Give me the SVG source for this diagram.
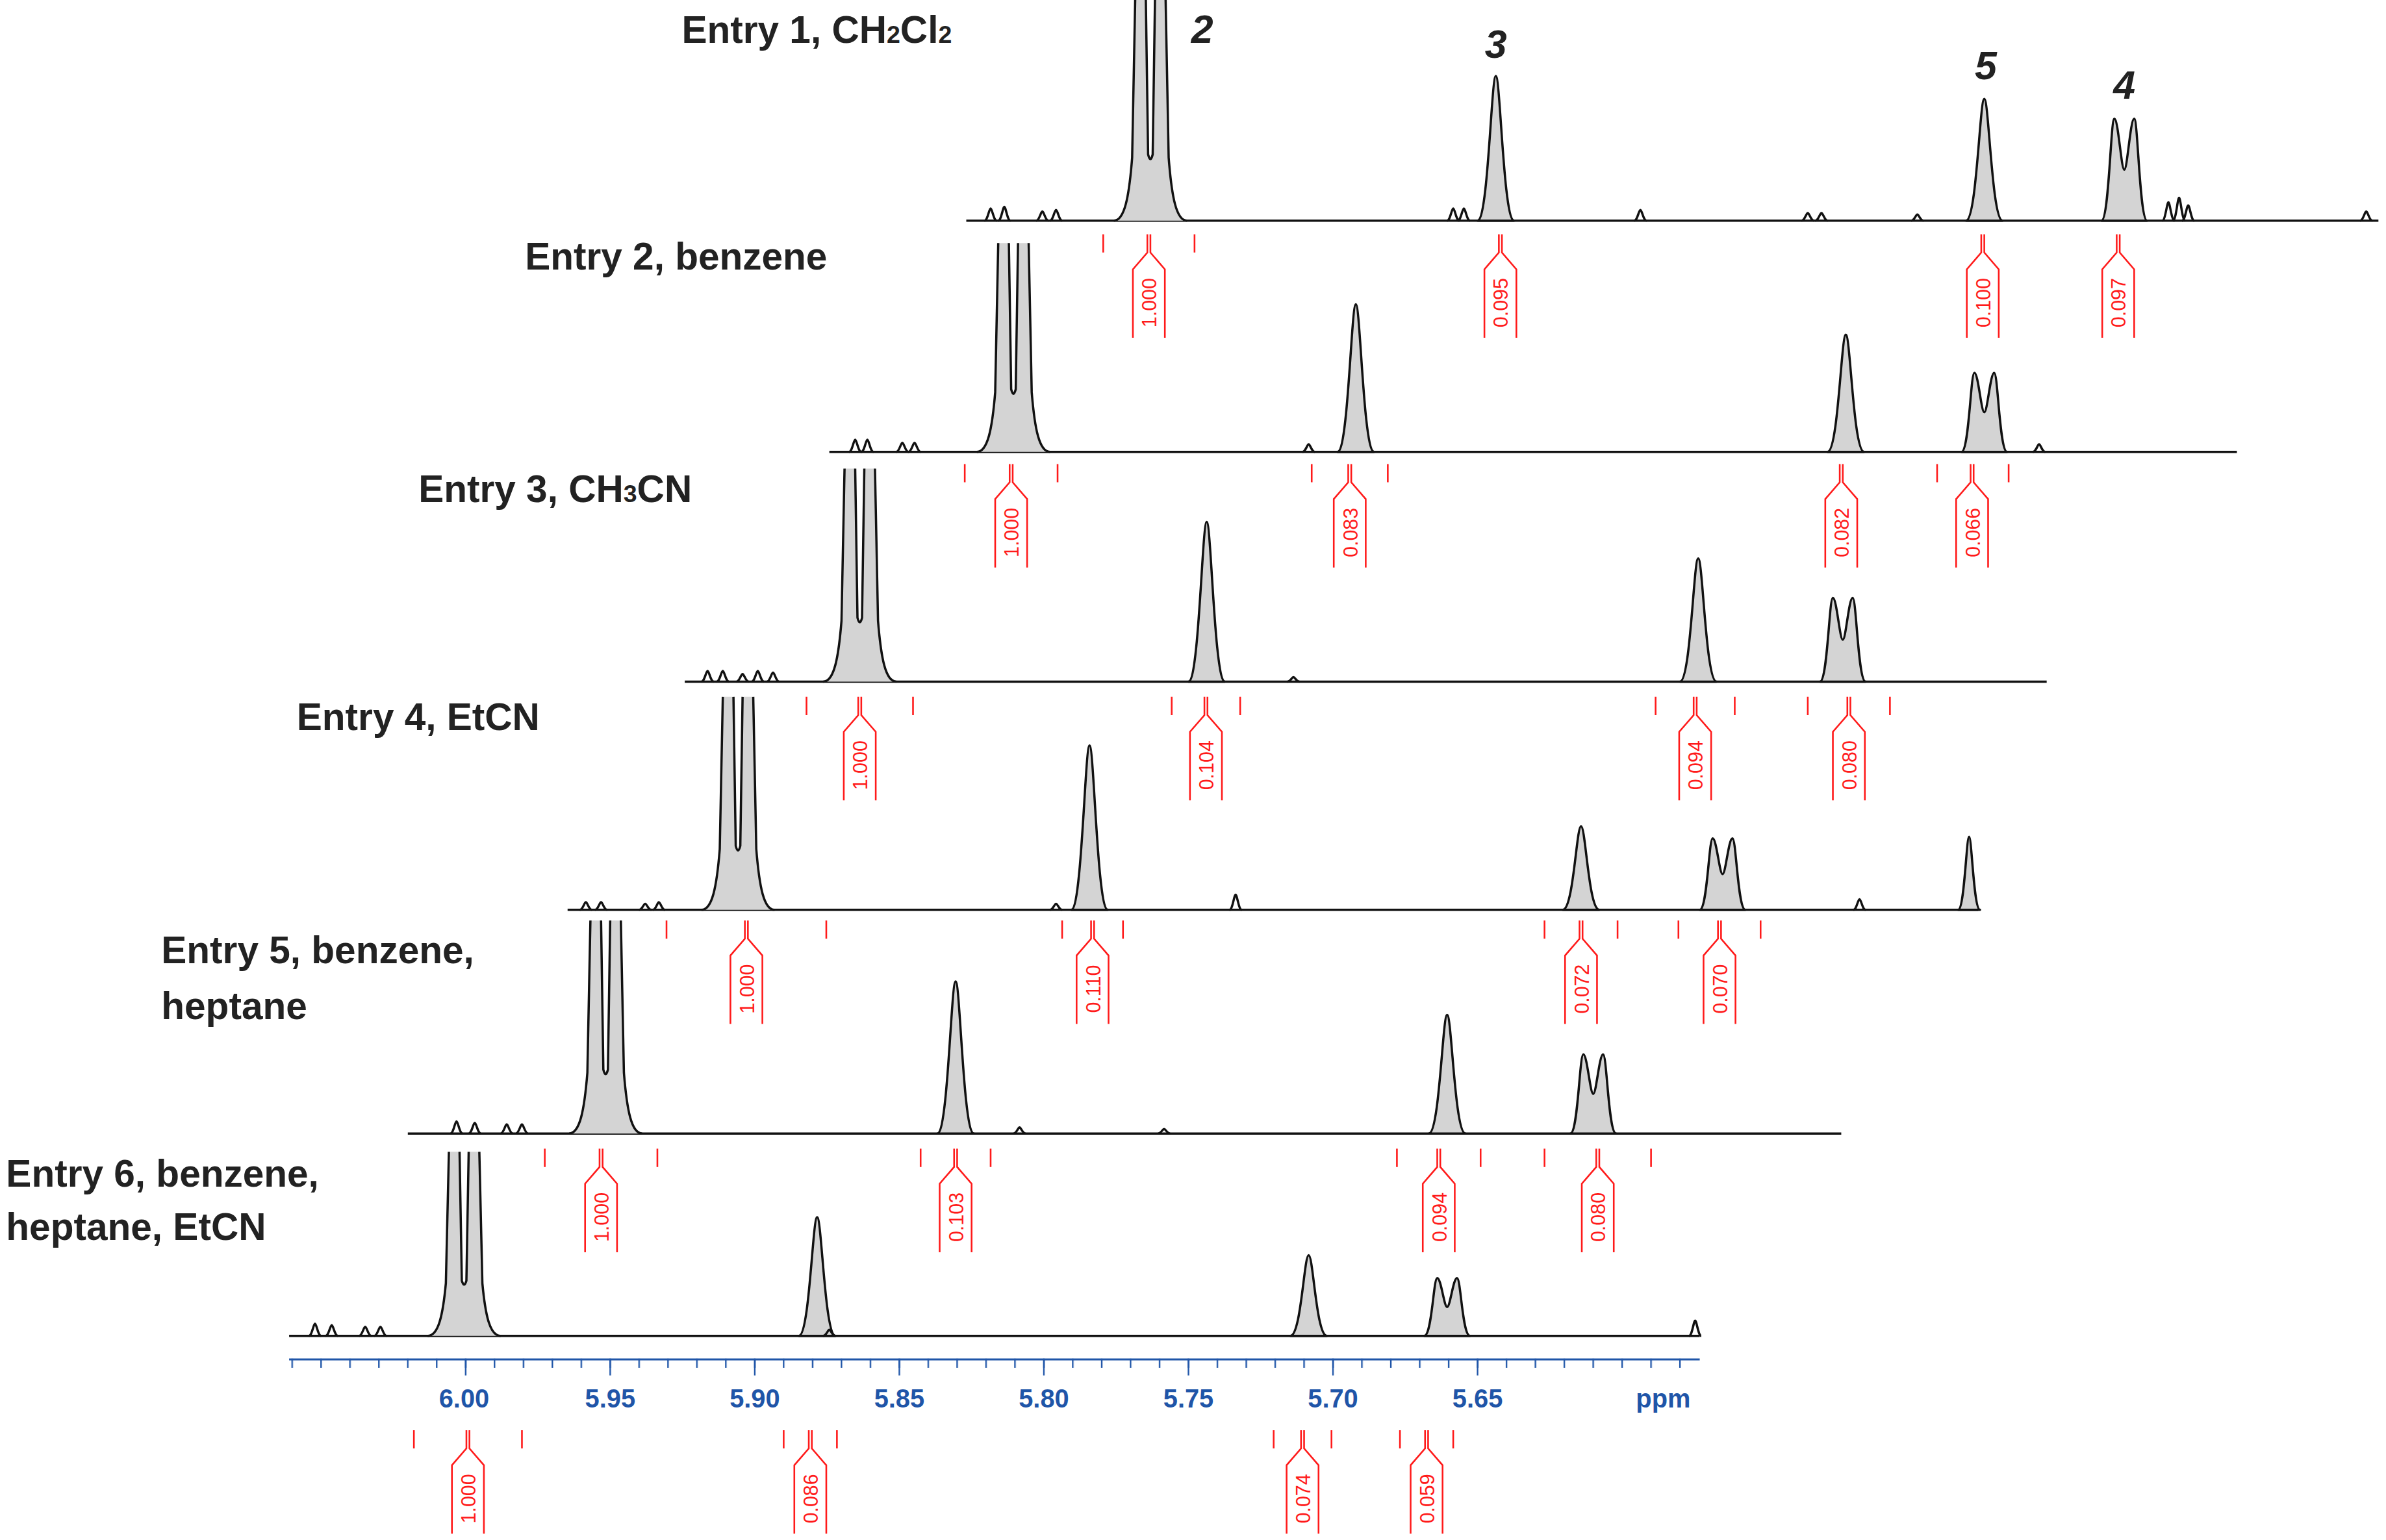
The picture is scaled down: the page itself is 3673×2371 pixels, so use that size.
<svg xmlns="http://www.w3.org/2000/svg" xmlns:xlink="http://www.w3.org/1999/xlink" width="3673" height="2371" viewBox="0 0 3673 2371">
<style>
.tr{fill:none;stroke:#111;stroke-width:3.5;vector-effect:non-scaling-stroke;stroke-linejoin:round}
.pf{fill:#d4d4d4;stroke:#111;stroke-width:3.5;vector-effect:non-scaling-stroke;stroke-linejoin:round}
.bf{fill:#d4d4d4;stroke:none}
.ig{fill:none;stroke:#ff1a1a;stroke-width:1.1}
.it{font-family:"Liberation Sans",Arial,sans-serif;font-size:13px;fill:#ff1a1a;text-anchor:middle}
.ti{font-family:"Liberation Sans",Arial,sans-serif;font-size:25px;font-weight:bold;fill:#222}
.nm{font-family:"Liberation Sans",Arial,sans-serif;font-size:26px;font-weight:bold;font-style:italic;fill:#222;text-anchor:middle}
.ax{font-family:"Liberation Sans",Arial,sans-serif;font-size:17px;font-weight:bold;fill:#1f55a8;text-anchor:middle}
</style>
<defs>
<path id="pk" class="pf" d="M-12,0 C-5,0 -3,-100 0,-100 C3,-100 5,0 12,0 Z"/>
<path id="db" class="pf" d="M-15,0 C-10,0 -9,-100 -6.5,-100 C-4,-100 -2,-50 0,-50 C2,-50 4,-100 6.5,-100 C9,-100 10,0 15,0 Z"/>
<g id="bg"><path class="bf" d="M-24,0 C-17,0 -14,-15 -12,-40 L-10,-140 L-3,-140 L-1.5,-42 Q0,-36 1.5,-42 L3,-140 L10,-140 L12,-40 C14,-15 17,0 24,0 Z"/><path class="tr" d="M-24,0 C-17,0 -14,-15 -12,-40 L-10,-140 M-3,-140 L-1.5,-42 Q0,-36 1.5,-42 L3,-140 M10,-140 L12,-40 C14,-15 17,0 24,0"/></g>
<path id="sm" class="tr" d="M-4,0 C-2,0 -1,-100 0,-100 C1,-100 2,0 4,0"/>
<path id="ib" class="ig" d="M-1,0 V12 L-10.5,23 V68 M1,0 V12 L10.5,23 V68"/>
<pattern id="mn" patternUnits="userSpaceOnUse" x="191.5" y="0" width="19" height="20"><rect x="0" y="0" width="1" height="20" fill="#1f55a8"/></pattern>
<pattern id="mj" patternUnits="userSpaceOnUse" x="305.5" y="0" width="95" height="20"><rect x="0" y="0" width="1" height="20" fill="#1f55a8"/></pattern>
</defs>
<g transform="scale(2.3425)">
<g id="entry1">
<path class="tr" d="M635,145 H1563"/>
<use href="#bg" transform="translate(756,145) scale(1,1.036)"/>
<use href="#pk" transform="translate(983,145) scale(1,0.95)"/>
<use href="#pk" transform="translate(1304,145) scale(1,0.8)"/>
<use href="#db" transform="translate(1396,145) scale(1,0.67)"/>
<use href="#sm" transform="translate(651,145) scale(1,0.08)"/><use href="#sm" transform="translate(660,145) scale(1,0.09)"/><use href="#sm" transform="translate(685,145) scale(1,0.06)"/><use href="#sm" transform="translate(694,145) scale(1,0.07)"/><use href="#sm" transform="translate(955,145) scale(1,0.08)"/><use href="#sm" transform="translate(962,145) scale(1,0.08)"/><use href="#sm" transform="translate(1078,145) scale(1,0.07)"/><use href="#sm" transform="translate(1188,145) scale(1,0.05)"/><use href="#sm" transform="translate(1197,145) scale(1,0.05)"/><use href="#sm" transform="translate(1260,145) scale(1,0.04)"/><use href="#sm" transform="translate(1425,145) scale(1,0.12)"/><use href="#sm" transform="translate(1432,145) scale(1,0.15)"/><use href="#sm" transform="translate(1438,145) scale(1,0.1)"/><use href="#sm" transform="translate(1555,145) scale(1,0.06)"/>
<text class="ti" x="448" y="28">Entry 1, CH<tspan font-size="16">2</tspan>Cl<tspan font-size="16">2</tspan></text>
<text class="nm" x="790" y="28">2</text><text class="nm" x="983" y="38">3</text><text class="nm" x="1305" y="52">5</text><text class="nm" x="1396" y="65">4</text>
<use href="#ib" transform="translate(755,154)"/><path class="ig" d="M725,154 V166 M785,154 V166"/><text class="it" transform="translate(760,199) rotate(-90)">1.000</text>
<use href="#ib" transform="translate(986,154)"/><text class="it" transform="translate(991,199) rotate(-90)">0.095</text>
<use href="#ib" transform="translate(1303,154)"/><text class="it" transform="translate(1308,199) rotate(-90)">0.100</text>
<use href="#ib" transform="translate(1392,154)"/><text class="it" transform="translate(1397,199) rotate(-90)">0.097</text>
</g>
<g id="entry2">
<path class="tr" d="M545,297 H1470"/>
<use href="#bg" transform="translate(666,297) scale(1,0.98)"/>
<use href="#pk" transform="translate(891,297) scale(1,0.97)"/>
<use href="#pk" transform="translate(1213,297) scale(1,0.77)"/>
<use href="#db" transform="translate(1304,297) scale(1,0.52)"/>
<use href="#sm" transform="translate(562,297) scale(1,0.08)"/><use href="#sm" transform="translate(570,297) scale(1,0.08)"/><use href="#sm" transform="translate(593,297) scale(1,0.06)"/><use href="#sm" transform="translate(601,297) scale(1,0.06)"/><use href="#sm" transform="translate(860,297) scale(1,0.05)"/><use href="#sm" transform="translate(1340,297) scale(1,0.05)"/>
<text class="ti" x="345" y="177">Entry 2, benzene</text>
<use href="#ib" transform="translate(664.5,305)"/><path class="ig" d="M634,305 V317 M695,305 V317"/><text class="it" transform="translate(669.5,350) rotate(-90)">1.000</text>
<use href="#ib" transform="translate(887,305)"/><path class="ig" d="M862,305 V317 M912,305 V317"/><text class="it" transform="translate(892,350) rotate(-90)">0.083</text>
<use href="#ib" transform="translate(1210,305)"/><text class="it" transform="translate(1215,350) rotate(-90)">0.082</text>
<use href="#ib" transform="translate(1296,305)"/><path class="ig" d="M1273,305 V317 M1320,305 V317"/><text class="it" transform="translate(1301,350) rotate(-90)">0.066</text>
</g>
<g id="entry3">
<path class="tr" d="M450,448 H1345"/>
<use href="#bg" transform="translate(565,448)"/>
<use href="#pk" transform="translate(793,448) scale(1,1.05)"/>
<use href="#pk" transform="translate(1116,448) scale(1,0.81)"/>
<use href="#db" transform="translate(1211,448) scale(1,0.55)"/>
<use href="#sm" transform="translate(465,448) scale(1,0.07)"/><use href="#sm" transform="translate(475,448) scale(1,0.07)"/><use href="#sm" transform="translate(488,448) scale(1,0.05)"/><use href="#sm" transform="translate(498,448) scale(1,0.07)"/><use href="#sm" transform="translate(508,448) scale(1,0.06)"/><use href="#sm" transform="translate(850,448) scale(1,0.03)"/>
<text class="ti" x="275" y="330">Entry 3, CH<tspan font-size="16">3</tspan>CN</text>
<use href="#ib" transform="translate(565,458)"/><path class="ig" d="M530,458 V470 M600,458 V470"/><text class="it" transform="translate(570,503) rotate(-90)">1.000</text>
<use href="#ib" transform="translate(792.5,458)"/><path class="ig" d="M770,458 V470 M815,458 V470"/><text class="it" transform="translate(797.5,503) rotate(-90)">0.104</text>
<use href="#ib" transform="translate(1114,458)"/><path class="ig" d="M1088,458 V470 M1140,458 V470"/><text class="it" transform="translate(1119,503) rotate(-90)">0.094</text>
<use href="#ib" transform="translate(1215,458)"/><path class="ig" d="M1188,458 V470 M1242,458 V470"/><text class="it" transform="translate(1220,503) rotate(-90)">0.080</text>
</g>
<g id="entry4">
<path class="tr" d="M373,598 H1300"/>
<use href="#bg" transform="translate(485,598)"/>
<use href="#pk" transform="translate(716,598) scale(1,1.08)"/>
<use href="#pk" transform="translate(1039,598) scale(1,0.55)"/>
<use href="#db" transform="translate(1132,598) scale(1,0.47)"/>
<use href="#pk" transform="translate(1294,598) scale(0.6,0.48)"/>
<use href="#sm" transform="translate(385,598) scale(1,0.05)"/><use href="#sm" transform="translate(395,598) scale(1,0.05)"/><use href="#sm" transform="translate(424,598) scale(1,0.04)"/><use href="#sm" transform="translate(433,598) scale(1,0.05)"/><use href="#sm" transform="translate(694,598) scale(1,0.04)"/><use href="#sm" transform="translate(812,598) scale(1,0.1)"/><use href="#sm" transform="translate(1222,598) scale(1,0.07)"/>
<text class="ti" x="195" y="480">Entry 4, EtCN</text>
<use href="#ib" transform="translate(490.5,605)"/><path class="ig" d="M438,605 V617 M543,605 V617"/><text class="it" transform="translate(495.5,650) rotate(-90)">1.000</text>
<use href="#ib" transform="translate(718,605)"/><path class="ig" d="M698,605 V617 M738,605 V617"/><text class="it" transform="translate(723,650) rotate(-90)">0.110</text>
<use href="#ib" transform="translate(1039,605)"/><path class="ig" d="M1015,605 V617 M1063,605 V617"/><text class="it" transform="translate(1044,650) rotate(-90)">0.072</text>
<use href="#ib" transform="translate(1130,605)"/><path class="ig" d="M1103,605 V617 M1157,605 V617"/><text class="it" transform="translate(1135,650) rotate(-90)">0.070</text>
</g>
<g id="entry5">
<path class="tr" d="M268,745 H1210"/>
<use href="#bg" transform="translate(398,745)"/>
<use href="#pk" transform="translate(628,745)"/>
<use href="#pk" transform="translate(951,745) scale(1,0.78)"/>
<use href="#db" transform="translate(1047,745) scale(1,0.52)"/>
<use href="#sm" transform="translate(300,745) scale(1,0.08)"/><use href="#sm" transform="translate(312,745) scale(1,0.07)"/><use href="#sm" transform="translate(333,745) scale(1,0.06)"/><use href="#sm" transform="translate(343,745) scale(1,0.06)"/><use href="#sm" transform="translate(670,745) scale(1,0.04)"/><use href="#sm" transform="translate(765,745) scale(1,0.03)"/>
<text class="ti" x="106" y="633">Entry 5, benzene,</text><text class="ti" x="106" y="670">heptane</text>
<use href="#ib" transform="translate(395,755)"/><path class="ig" d="M358,755 V767 M432,755 V767"/><text class="it" transform="translate(400,800) rotate(-90)">1.000</text>
<use href="#ib" transform="translate(628,755)"/><path class="ig" d="M605,755 V767 M651,755 V767"/><text class="it" transform="translate(633,800) rotate(-90)">0.103</text>
<use href="#ib" transform="translate(945.5,755)"/><path class="ig" d="M918,755 V767 M973,755 V767"/><text class="it" transform="translate(950.5,800) rotate(-90)">0.094</text>
<use href="#ib" transform="translate(1050,755)"/><path class="ig" d="M1015,755 V767 M1085,755 V767"/><text class="it" transform="translate(1055,800) rotate(-90)">0.080</text>
</g>
<g id="entry6">
<path class="tr" d="M190,878 H1117"/>
<use href="#bg" transform="translate(305,878) scale(1,0.864)"/>
<use href="#pk" transform="translate(537,878) scale(1,0.78)"/>
<use href="#pk" transform="translate(860,878) scale(1,0.53)"/>
<use href="#db" transform="translate(951,878) scale(1,0.38)"/>
<use href="#sm" transform="translate(207,878) scale(1,0.08)"/><use href="#sm" transform="translate(218,878) scale(1,0.07)"/><use href="#sm" transform="translate(240,878) scale(1,0.06)"/><use href="#sm" transform="translate(250,878) scale(1,0.06)"/><use href="#sm" transform="translate(545,878) scale(1,0.04)"/><use href="#sm" transform="translate(1114,878) scale(1,0.1)"/>
<text class="ti" x="4" y="780">Entry 6, benzene,</text><text class="ti" x="4" y="815">heptane, EtCN</text>
</g>
<g id="axis">
<path d="M190,893.5 H1117" stroke="#1f55a8" stroke-width="1.2"/>
<rect x="191" y="893" width="916" height="6" fill="url(#mn)"/>
<rect x="305" y="893" width="668" height="11" fill="url(#mj)"/>
<text class="ax" x="305" y="925">6.00</text><text class="ax" x="401" y="925">5.95</text><text class="ax" x="496" y="925">5.90</text><text class="ax" x="591" y="925">5.85</text><text class="ax" x="686" y="925">5.80</text><text class="ax" x="781" y="925">5.75</text><text class="ax" x="876" y="925">5.70</text><text class="ax" x="971" y="925">5.65</text><text class="ax" x="1093" y="925">ppm</text>
</g>
<g id="integrals6">
<use href="#ib" transform="translate(307.5,940)"/><path class="ig" d="M272,940 V952 M343,940 V952"/><text class="it" transform="translate(312.5,985) rotate(-90)">1.000</text>
<use href="#ib" transform="translate(532.5,940)"/><path class="ig" d="M515,940 V952 M550,940 V952"/><text class="it" transform="translate(537.5,985) rotate(-90)">0.086</text>
<use href="#ib" transform="translate(856,940)"/><path class="ig" d="M837,940 V952 M875,940 V952"/><text class="it" transform="translate(861,985) rotate(-90)">0.074</text>
<use href="#ib" transform="translate(937.5,940)"/><path class="ig" d="M920,940 V952 M955,940 V952"/><text class="it" transform="translate(942.5,985) rotate(-90)">0.059</text>
</g>
</g>
</svg>
